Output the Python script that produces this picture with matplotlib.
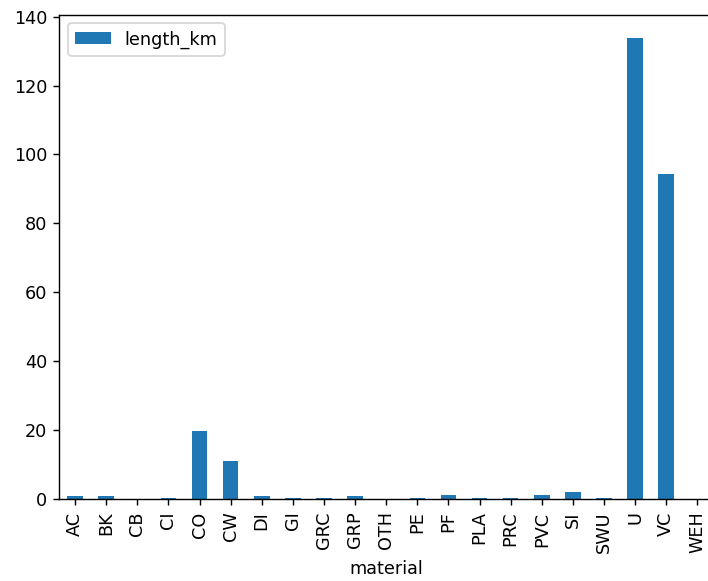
import matplotlib
matplotlib.use("Agg")
import matplotlib.pyplot as plt
import numpy as np

materials = ["AC", "BK", "CB", "CI", "CO", "CW", "DI", "GI", "GRC", "GRP", "OTH",
             "PE", "PF", "PLA", "PRC", "PVC", "SI", "SWU", "U", "VC", "WEH"]
length_km = [0.8, 0.8, 0.0, 0.4, 19.7, 11.0, 0.8, 0.4, 0.4, 0.8, 0.0,
             0.4, 1.2, 0.4, 0.4, 1.2, 2.0, 0.4, 133.9, 94.4, 0.0]

DPI = 127
fig = plt.figure(figsize=(708 / DPI, 581 / DPI), dpi=DPI)
ax = fig.add_axes([0.084, 0.141, 0.923, 0.834])
x = np.arange(len(materials))
ax.bar(x, length_km, width=0.5, color="#1f77b4", label="length_km")
ax.set_xlim(-0.5, len(materials) - 0.5)
ax.set_ylim(0, max(length_km) * 1.05)
ax.set_xticks(x)
ax.set_xticklabels(materials, rotation=90)
ax.set_xlabel("material")
ax.spines["right"].set_visible(False)
ax.legend(loc="upper left")
fig.savefig("out.png", dpi=DPI)
